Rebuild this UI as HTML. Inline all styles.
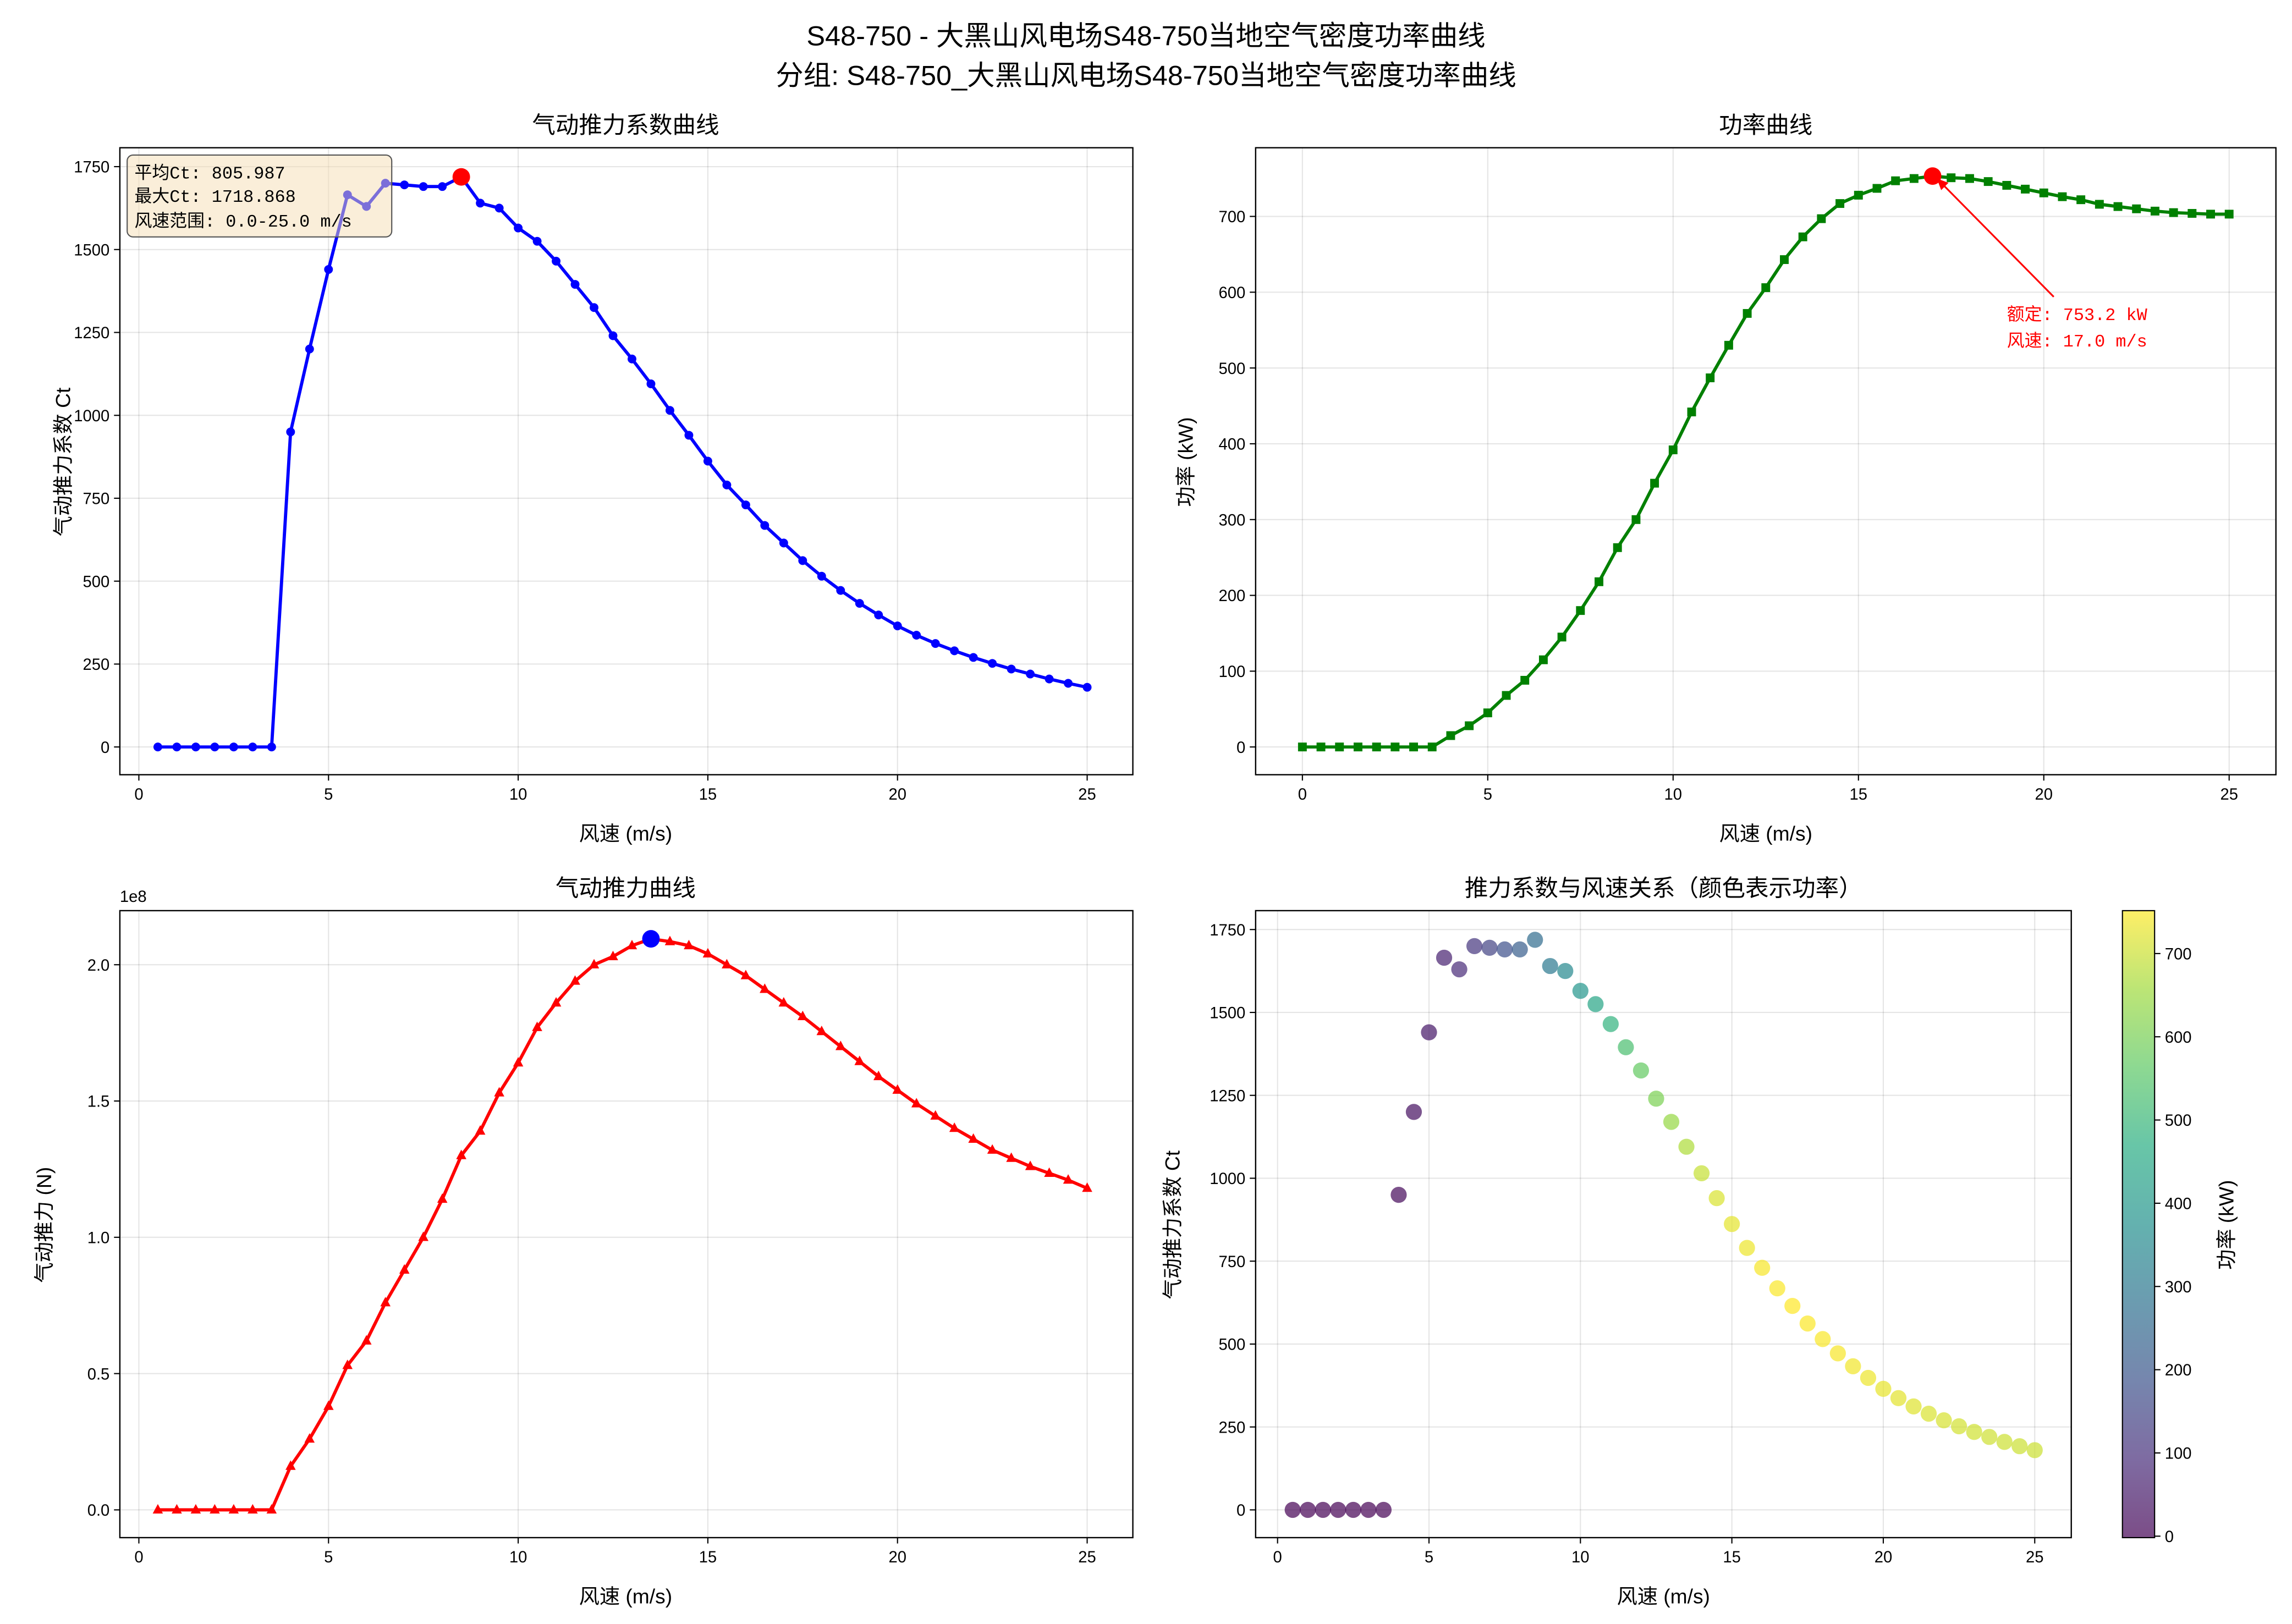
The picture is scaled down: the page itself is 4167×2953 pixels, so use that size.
<!DOCTYPE html>
<html><head><meta charset="utf-8"><style>
html,body{margin:0;padding:0;background:#fff}
svg{display:block}
text{font-family:"Liberation Sans","Noto Sans CJK SC",sans-serif;fill:#000}
.t{font-size:11px}
.m{font-family:"Liberation Mono","Noto Sans CJK SC",monospace}
.grid line{stroke:#000;stroke-opacity:0.1;stroke-width:0.8}
</style></head><body>
<svg id="s" width="4167" height="2953" viewBox="0 0 1568 1111" xmlns="http://www.w3.org/2000/svg">
<rect width="1568" height="1111" fill="#fff"/>
<text x="784" y="31" font-size="19" text-anchor="middle">S48-750 - 大黑山风电场S48-750当地空气密度功率曲线</text>
<text x="784" y="58" font-size="19" text-anchor="middle">分组: S48-750_大黑山风电场S48-750当地空气密度功率曲线</text>

<text x="428" y="91" font-size="16" text-anchor="middle">气动推力系数曲线</text>
<text x="1208" y="91" font-size="16" text-anchor="middle">功率曲线</text>
<text x="428" y="613" font-size="16" text-anchor="middle">气动推力曲线</text>
<text x="1138" y="613" font-size="16" text-anchor="middle">推力系数与风速关系（颜色表示功率）</text>

<g id="g"></g>

<text x="428" y="575" font-size="14" text-anchor="middle">风速 (m/s)</text>
<text x="1208" y="575" font-size="14" text-anchor="middle">风速 (m/s)</text>
<text x="428" y="1097" font-size="14" text-anchor="middle">风速 (m/s)</text>
<text x="1138" y="1097" font-size="14" text-anchor="middle">风速 (m/s)</text>
<text transform="translate(48,316) rotate(-90)" font-size="14" text-anchor="middle">气动推力系数 Ct</text>
<text transform="translate(816,316) rotate(-90)" font-size="14" text-anchor="middle">功率 (kW)</text>
<text transform="translate(35,838) rotate(-90)" font-size="14" text-anchor="middle">气动推力 (N)</text>
<text transform="translate(807,838) rotate(-90)" font-size="14" text-anchor="middle">气动推力系数 Ct</text>
<text transform="translate(1528,838) rotate(-90)" font-size="14" text-anchor="middle">功率 (kW)</text>
<text x="82" y="617" class="t">1e8</text>

<line x1="1405" y1="203" x2="1327" y2="124" stroke="red" stroke-width="1.2"/>
<path d="M1325,122 l8,3 l-5,5 z" fill="red"/>
<text x="1373" y="219" font-size="12" class="m" style="fill:red">额定: 753.2 kW</text>
<text x="1373" y="237" font-size="12" class="m" style="fill:red">风速: 17.0 m/s</text>
</svg>
<script>
const NS="http://www.w3.org/2000/svg",g=document.getElementById('g');
function el(n,a){const e=document.createElementNS(NS,n);for(const k in a)e.setAttribute(k,a[k]);g.appendChild(e);return e;}
function txt(x,y,s,anc){const e=el('text',{x:x,y:y,'class':'t','text-anchor':anc||'middle'});e.textContent=s;}
const ct=[0,0,0,0,0,0,0,950,1200,1440,1665,1630,1700,1695,1690,1690,1719,1640,1625,1565,1525,1465,1395,1325,1240,1170,1095,1015,940,862,790,730,668,615,562,515,472,433,398,365,337,312,290,270,252,235,220,205,192,180];
const ws=[];for(let i=0;i<50;i++)ws.push(0.5+i*0.5);
const pw=[0,0,0,0,0,0,0,0,15,28,45,68,88,115,145,180,218,263,300,348,392,442,487,530,572,606,643,673,697,717,728,737,747,750,753.2,751,750,746,741,736,731,726,722,716,713,710,707,705,704,703,703];
const th=[0,0,0,0,0,0,0,0.16,0.26,0.38,0.53,0.62,0.76,0.88,1.00,1.14,1.30,1.39,1.53,1.64,1.77,1.86,1.94,2.00,2.03,2.07,2.095,2.085,2.07,2.04,2.00,1.96,1.91,1.86,1.81,1.755,1.70,1.645,1.59,1.54,1.49,1.445,1.40,1.36,1.32,1.29,1.26,1.235,1.21,1.18];
function axes(x0,y0,x1,y1,xf,yf,xt,yt,yfmt){
 const gr=el('g',{'class':'grid'});
 xt.forEach(v=>{const x=xf(v);const l=document.createElementNS(NS,'line');l.setAttribute('x1',x);l.setAttribute('x2',x);l.setAttribute('y1',y0);l.setAttribute('y2',y1);gr.appendChild(l);
  el('line',{x1:x,x2:x,y1:y1,y2:y1+4,stroke:'#000','stroke-width':0.8});txt(x,y1+17,String(v));});
 yt.forEach(v=>{const y=yf(v);const l=document.createElementNS(NS,'line');l.setAttribute('x1',x0);l.setAttribute('x2',x1);l.setAttribute('y1',y);l.setAttribute('y2',y);gr.appendChild(l);
  el('line',{x1:x0-4,x2:x0,y1:y,y2:y,stroke:'#000','stroke-width':0.8});txt(x0-7,y+4,yfmt?yfmt(v):String(v),'end');});
}
function frame(x0,y0,x1,y1){el('rect',{x:x0,y:y0,width:x1-x0,height:y1-y0,fill:'none',stroke:'#000','stroke-width':0.9});}
function line(xs,ys,xf,yf,c){el('polyline',{points:xs.map((x,i)=>xf(x)+','+yf(ys[i])).join(' '),fill:'none',stroke:c,'stroke-width':2.2,'stroke-linejoin':'round'});}
const f1x=v=>95+v*25.95,f1y=v=>511-v*0.2269;
axes(82,101,775,530,f1x,f1y,[0,5,10,15,20,25],[0,250,500,750,1000,1250,1500,1750]);
line(ws,ct,f1x,f1y,'#0000ff');ws.forEach((w,i)=>el('circle',{cx:f1x(w),cy:f1y(ct[i]),r:3,fill:'#0000ff'}));
el('circle',{cx:f1x(8.5),cy:f1y(1719),r:6,fill:'red'});
el('rect',{x:87,y:106,width:181,height:56,rx:4,fill:'wheat','fill-opacity':0.5,stroke:'#555','stroke-width':0.8});
[['平均Ct: 805.987',122],['最大Ct: 1718.868',138],['风速范围: 0.0-25.0 m/s',155]].forEach(a=>{const e=el('text',{x:92,y:a[1],'font-size':12,'class':'m'});e.textContent=a[0];});
frame(82,101,775,530);
const f2x=v=>891+v*25.36,f2y=v=>511-v*0.5186;
const ws2=[];for(let i=0;i<51;i++)ws2.push(i*0.5);
axes(859,101,1557,530,f2x,f2y,[0,5,10,15,20,25],[0,100,200,300,400,500,600,700]);
line(ws2,pw,f2x,f2y,'#008000');ws2.forEach((w,i)=>el('rect',{x:f2x(w)-3,y:f2y(pw[i])-3,width:6,height:6,fill:'#008000'}));
el('circle',{cx:f2x(17),cy:f2y(753.2),r:6,fill:'red'});
frame(859,101,1557,530);
const f3x=f1x,f3y=v=>1033-v*186.5;
axes(82,623,775,1052,f3x,f3y,[0,5,10,15,20,25],[0,0.5,1,1.5,2],v=>v.toFixed(1));
line(ws,th,f3x,f3y,'#ff0000');ws.forEach((w,i)=>{const x=f3x(w),y=f3y(th[i]);el('path',{d:`M${x},${y-4}L${x+3.5},${y+2.5}L${x-3.5},${y+2.5}Z`,fill:'#ff0000'});});
el('circle',{cx:f3x(13.5),cy:f3y(2.095),r:6,fill:'#0000ff'});
frame(82,623,775,1052);
const V=[[68,1,84],[71,44,122],[59,82,139],[44,113,142],[33,144,141],[39,173,130],[92,200,99],[159,218,58],[253,231,37]];
function vir(t){t=Math.max(0,Math.min(1,t))*8;const i=Math.min(7,Math.floor(t)),f=t-i;const a=V[i],b=V[i+1];return 'rgb('+a.map((c,k)=>Math.round(c+(b[k]-c)*f)).join(',')+')';}
const f4x=v=>874+v*20.72,f4y=v=>1033-v*0.2269;
axes(859,623,1417,1052,f4x,f4y,[0,5,10,15,20,25],[0,250,500,750,1000,1250,1500,1750]);
ws.forEach((w,i)=>el('circle',{cx:f4x(w),cy:f4y(ct[i]),r:5.5,fill:vir(pw[i+1]/753.2),'fill-opacity':0.7}));
frame(859,623,1417,1052);
const defs=el('defs',{});const lg=document.createElementNS(NS,'linearGradient');lg.setAttribute('id','cb');lg.setAttribute('x1',0);lg.setAttribute('y1',1);lg.setAttribute('x2',0);lg.setAttribute('y2',0);
V.forEach((c,i)=>{const s=document.createElementNS(NS,'stop');s.setAttribute('offset',i/8);s.setAttribute('stop-color','rgb('+c.join(',')+')');s.setAttribute('stop-opacity',0.7);lg.appendChild(s);});defs.appendChild(lg);
el('rect',{x:1452,y:623,width:22,height:429,fill:'url(#cb)',stroke:'#000','stroke-width':0.8});
[0,100,200,300,400,500,600,700].forEach(v=>{const y=1051-v*0.5695;el('line',{x1:1474,x2:1478,y1:y,y2:y,stroke:'#000','stroke-width':0.8});txt(1481,y+4,String(v),'start');});
</script>
</body></html>
